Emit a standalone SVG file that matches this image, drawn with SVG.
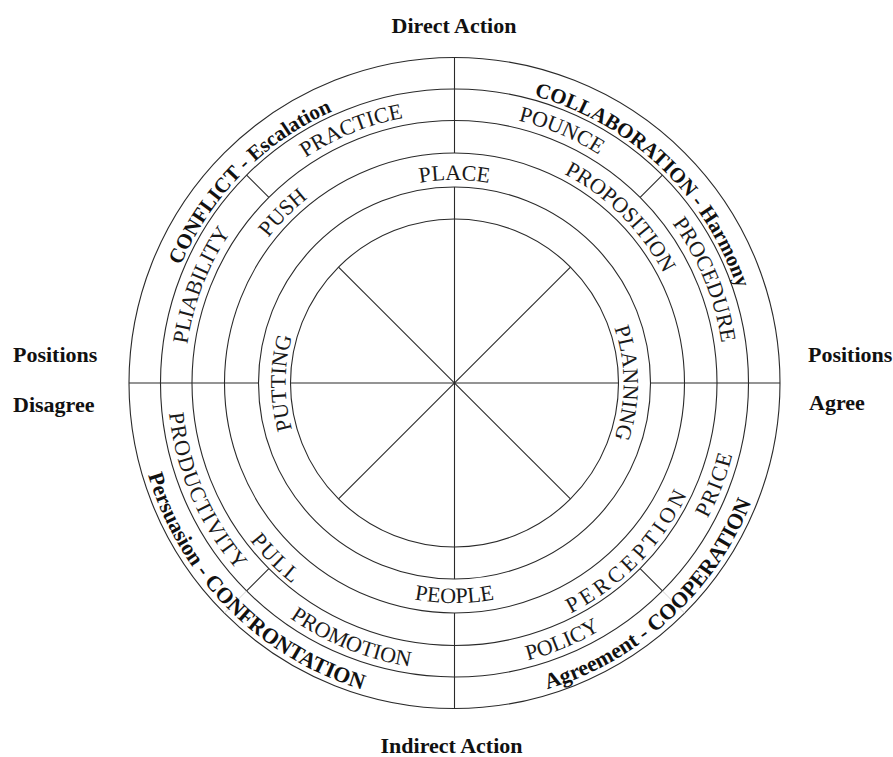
<svg xmlns="http://www.w3.org/2000/svg" xmlns:xlink="http://www.w3.org/1999/xlink" width="893" height="757" viewBox="0 0 893 757">
<style>
.ring{fill:none;stroke:#2a2a2a;stroke-width:1.1}
.ln{stroke:#2a2a2a;stroke-width:1.1;fill:none}
.faint{stroke:#d4d4d4;stroke-width:1;fill:none}
.lab{font-family:"Liberation Serif","Times New Roman",serif;font-size:22px;fill:#1a1a1a}
.big{font-family:"Liberation Serif","Times New Roman",serif;font-size:21px;font-weight:bold;fill:#111}
.big2{font-family:"Liberation Serif","Times New Roman",serif;font-size:22px;font-weight:bold;fill:#111}
.side{font-family:"Liberation Serif","Times New Roman",serif;font-size:22px;font-weight:bold;fill:#111}
</style>
<defs>
<path id="cw298" d="M 161.03 331.25 A 298 298 0 0 1 747.97 331.25"/>
<path id="cw270" d="M 188.60 336.11 A 270 270 0 0 1 720.40 336.11"/>
<path id="cw236" d="M 222.08 342.02 A 236 236 0 0 1 686.92 342.02"/>
<path id="cw203" d="M 254.58 347.75 A 203 203 0 0 1 654.42 347.75"/>
<path id="cw169" d="M 288.07 353.65 A 169 169 0 0 1 620.93 353.65"/>
<path id="ccw320" d="M 139.36 438.57 A 320 320 0 0 0 769.64 438.57"/>
<path id="ccw287" d="M 171.86 432.84 A 287 287 0 0 0 737.14 432.84"/>
<path id="ccw258" d="M 200.42 427.80 A 258 258 0 0 0 708.58 427.80"/>
<path id="ccw220" d="M 237.84 421.20 A 220 220 0 0 0 671.16 421.20"/>
</defs>
<rect width="893" height="757" fill="#ffffff"/>
<g id="rings">
<circle class="ring" cx="454.5" cy="383" r="325.5"/>
<circle class="ring" cx="454.5" cy="383" r="294"/>
<circle class="ring" cx="454.5" cy="383" r="262.5"/>
<circle class="ring" cx="454.5" cy="383" r="230"/>
<circle class="ring" cx="454.5" cy="383" r="196"/>
<circle class="ring" cx="454.5" cy="383" r="164"/>
</g>
<g id="connectors">
<line class="ln" x1="454.5" y1="57.5" x2="454.5" y2="153"/>
<line class="ln" x1="454.5" y1="187" x2="454.5" y2="579"/>
<line class="ln" x1="454.5" y1="613" x2="454.5" y2="708.5"/>
<line class="ln" x1="129" y1="383" x2="258.5" y2="383"/>
<line class="ln" x1="290.5" y1="383" x2="618.5" y2="383"/>
<line class="ln" x1="650.5" y1="383" x2="780" y2="383"/>
<line class="ln" x1="570.47" y1="267.03" x2="338.53" y2="498.97"/>
<line class="ln" x1="338.53" y1="267.03" x2="570.47" y2="498.97"/>
<line class="ln" x1="268.88" y1="197.38" x2="246.61" y2="175.11"/>
<line class="ln" x1="640.12" y1="197.38" x2="662.39" y2="175.11"/>
<line class="ln" x1="268.88" y1="568.62" x2="246.61" y2="590.89"/>
<line class="ln" x1="640.12" y1="568.62" x2="662.39" y2="590.89"/>
<line class="faint" x1="246.61" y1="590.89" x2="224.34" y2="613.16"/>
<line class="faint" x1="662.39" y1="590.89" x2="684.66" y2="613.16"/>
</g>
<g id="outer-band">
<g id="conflict" transform="rotate(-45.5 454.5 383)"><text class="big"><textPath xlink:href="#cw298" startOffset="50%" text-anchor="middle">CONFLICT - Escalation</textPath></text></g>
<g id="collaboration" transform="rotate(43.5 454.5 383)"><text class="big"><textPath xlink:href="#cw298" startOffset="50%" text-anchor="middle">COLLABORATION - Harmony</textPath></text></g>
<g id="confrontation" transform="rotate(45 454.5 383)"><text class="big2"><textPath xlink:href="#ccw320" startOffset="50%" text-anchor="middle">Persuasion - CONFRONTATION</textPath></text></g>
<g id="cooperation" transform="rotate(-42.5 454.5 383)"><text class="big2"><textPath xlink:href="#ccw320" startOffset="50%" text-anchor="middle">Agreement - COOPERATION</textPath></text></g>
</g>
<g id="band2">
<g id="practice" transform="rotate(-22.2 454.5 383)"><text class="lab"><textPath xlink:href="#cw270" startOffset="50%" text-anchor="middle">PRACTICE</textPath></text></g>
<g id="pliability" transform="rotate(-68.9 454.5 383)"><text class="lab"><textPath xlink:href="#cw270" startOffset="50%" text-anchor="middle">PLIABILITY</textPath></text></g>
<g id="pounce" transform="rotate(23 454.5 383)"><text class="lab"><textPath xlink:href="#cw270" startOffset="50%" text-anchor="middle">POUNCE</textPath></text></g>
<g id="procedure" transform="rotate(67.6 454.5 383)"><text class="lab"><textPath xlink:href="#cw270" startOffset="50%" text-anchor="middle">PROCEDURE</textPath></text></g>
<g id="productivity" transform="rotate(66.5 454.5 383)"><text class="lab" letter-spacing="1"><textPath xlink:href="#ccw287" startOffset="50%" text-anchor="middle">PRODUCTIVITY</textPath></text></g>
<g id="promotion" transform="rotate(22 454.5 383)"><text class="lab"><textPath xlink:href="#ccw287" startOffset="50%" text-anchor="middle">PROMOTION</textPath></text></g>
<g id="policy" transform="rotate(-22.7 454.5 383)"><text class="lab"><textPath xlink:href="#ccw287" startOffset="50%" text-anchor="middle">POLICY</textPath></text></g>
<g id="price" transform="rotate(-68.8 454.5 383)"><text class="lab" letter-spacing="1.5"><textPath xlink:href="#ccw287" startOffset="50%" text-anchor="middle">PRICE</textPath></text></g>
</g>
<g id="band3">
<g id="push" transform="rotate(-45.2 454.5 383)"><text class="lab"><textPath xlink:href="#cw236" startOffset="50%" text-anchor="middle">PUSH</textPath></text></g>
<g id="proposition" transform="rotate(45 454.5 383)"><text class="lab"><textPath xlink:href="#cw236" startOffset="50%" text-anchor="middle">PROPOSITION</textPath></text></g>
<g id="pull" transform="rotate(45.5 454.5 383)"><text class="lab" letter-spacing="2"><textPath xlink:href="#ccw258" startOffset="50%" text-anchor="middle">PULL</textPath></text></g>
<g id="perception" transform="rotate(-46 454.5 383)"><text class="lab" letter-spacing="4"><textPath xlink:href="#ccw258" startOffset="50%" text-anchor="middle">PERCEPTION</textPath></text></g>
</g>
<g id="band4">
<g id="place"><text class="lab"><textPath xlink:href="#cw203" startOffset="50%" text-anchor="middle">PLACE</textPath></text></g>
<g id="people"><text class="lab"><textPath xlink:href="#ccw220" startOffset="50%" text-anchor="middle">PEOPLE</textPath></text></g>
<g id="putting" transform="rotate(-90 454.5 383)"><text class="lab"><textPath xlink:href="#cw169" startOffset="50%" text-anchor="middle">PUTTING</textPath></text></g>
<g id="planning" transform="rotate(90 454.5 383)"><text class="lab"><textPath xlink:href="#cw169" startOffset="50%" text-anchor="middle">PLANNING</textPath></text></g>
</g>
<g id="axis-labels">
<text id="direct" class="side" x="454" y="33" text-anchor="middle">Direct Action</text>
<text id="indirect" class="side" x="451.5" y="753" text-anchor="middle">Indirect Action</text>
<text id="pos-left" class="side" x="13" y="362">Positions</text>
<text id="disagree" class="side" x="13" y="411.5">Disagree</text>
<text id="pos-right" class="side" x="808" y="362">Positions</text>
<text id="agree" class="side" x="809" y="410">Agree</text>
</g>
</svg>
